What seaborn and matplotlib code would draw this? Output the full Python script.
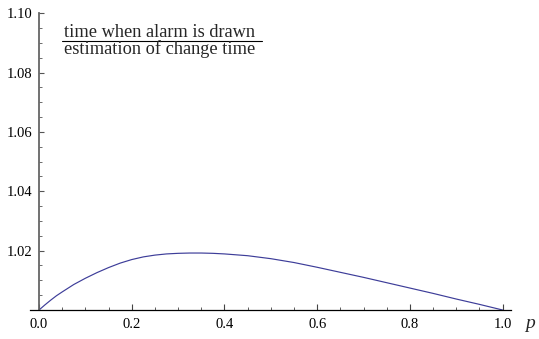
import matplotlib
matplotlib.use("Agg")
import matplotlib.pyplot as plt
import seaborn as sns
import pandas as pd
from matplotlib.ticker import MultipleLocator, FixedLocator, FixedFormatter
from matplotlib.lines import Line2D

# ---- data ----
p_values = [0.0, 0.0125, 0.025, 0.0375, 0.05, 0.075, 0.10, 0.125, 0.15, 0.175,
            0.20, 0.225, 0.25, 0.275, 0.30, 0.325, 0.35, 0.375, 0.40, 0.425,
            0.45, 0.475, 0.50, 0.55, 0.60, 0.65, 0.70, 0.75, 0.80, 0.85,
            0.90, 0.95, 1.0]
ratio_values = [1.0, 1.0017, 1.0033, 1.0048, 1.0061, 1.0086, 1.0107, 1.0126,
                1.0143, 1.0158, 1.0170, 1.0179, 1.0185, 1.0189, 1.0191,
                1.0192, 1.0192, 1.0191, 1.0189, 1.0186, 1.0183, 1.0178,
                1.0173, 1.0160, 1.0144, 1.0127, 1.0110, 1.0092, 1.0074,
                1.0056, 1.0037, 1.0019, 1.0]
x_ticks = [0.0, 0.2, 0.4, 0.6, 0.8, 1.0]
x_tick_labels = ["0.0", "0.2", "0.4", "0.6", "0.8", "1.0"]
y_ticks = [1.02, 1.04, 1.06, 1.08, 1.10]
y_tick_labels = ["1.02", "1.04", "1.06", "1.08", "1.10"]
numerator_text = "time when alarm is drawn"
denominator_text = "estimation of change time"
x_label = "p"

df = pd.DataFrame({"p": p_values, "ratio": ratio_values})

sns.set_style("white")
plt.rcParams["font.family"] = ["Liberation Serif", "DejaVu Serif"]

W, H = 539, 339
fig = plt.figure(figsize=(W / 100, H / 100), dpi=100)
ax = fig.add_axes([30 / W, (H - 310) / H, (510.7 - 30) / W, (310 - 13.3) / H])

sns.lineplot(data=df, x="p", y="ratio", ax=ax, color="#3d3d99", linewidth=0.85)

ax.set_xlim(-0.0195, 1.0175)
ax.set_ylim(1.0, 1.10)
ax.set_xlabel("")
ax.set_ylabel("")

for s in ("top", "right"):
    ax.spines[s].set_visible(False)
ax.spines["left"].set_position(("data", 0.0))
ax.spines["left"].set_color("#666666")
ax.spines["left"].set_linewidth(1.3)
ax.spines["bottom"].set_color("black")
ax.spines["bottom"].set_linewidth(0.9)

ax.xaxis.set_major_locator(FixedLocator(x_ticks))
ax.xaxis.set_major_formatter(FixedFormatter(x_tick_labels))
ax.xaxis.set_minor_locator(MultipleLocator(0.05))
ax.yaxis.set_major_locator(FixedLocator(y_ticks))
ax.yaxis.set_major_formatter(FixedFormatter(y_tick_labels))
ax.yaxis.set_minor_locator(MultipleLocator(0.005))

ax.tick_params(axis="both", which="both", direction="in", colors="black",
               labelsize=10.5, bottom=True, left=True, top=False, right=False)
ax.tick_params(axis="x", which="major", length=4.2, width=0.8, pad=6)
ax.tick_params(axis="x", which="minor", length=2.4, width=0.6)
ax.tick_params(axis="y", which="major", length=3.6, width=0.8, pad=4.5)
ax.tick_params(axis="y", which="minor", length=2.2, width=0.6)
ax.tick_params(axis="y", which="both", color="#555555")
ax.tick_params(axis="x", which="both", color="#444444")
ax.grid(False)

# fraction label
fig.text(160 / W, (H - 36.7) / H, numerator_text, ha="center", va="baseline",
         fontsize=13.2)
fig.text(160 / W, (H - 54.3) / H, denominator_text, ha="center", va="baseline",
         fontsize=13.2)
fig.add_artist(Line2D([61.7 / W, 261.7 / W], [(H - 41) / H, (H - 41) / H],
                      transform=fig.transFigure, color="black", linewidth=0.8))

# axis label p
fig.text(525 / W, (H - 328) / H, x_label, ha="left", va="baseline",
         fontsize=14, fontstyle="italic")

fig.savefig("out.png", dpi=100)
